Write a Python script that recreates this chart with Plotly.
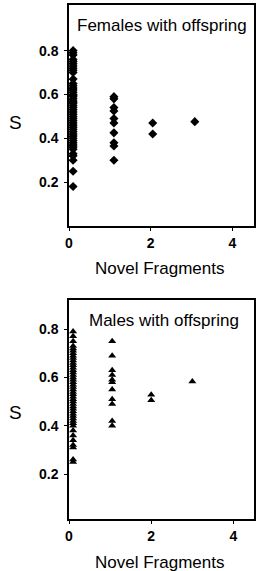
import plotly.graph_objects as go

# Females with offspring (diamonds)
fem_x0 = 0.1
fem_y0 = [0.80, 0.79, 0.78, 0.76, 0.75, 0.74, 0.73, 0.72, 0.71, 0.70, 0.67, 0.65,
          0.64, 0.63, 0.62, 0.61, 0.60, 0.595, 0.59, 0.58, 0.57, 0.565, 0.56, 0.55,
          0.54, 0.53, 0.52, 0.51, 0.50, 0.49, 0.48, 0.47, 0.46, 0.45, 0.44, 0.43,
          0.42, 0.41, 0.40, 0.39, 0.38, 0.37, 0.36, 0.35, 0.33, 0.32, 0.30, 0.25, 0.18]
fem_x1 = 1.1
fem_y1 = [0.59, 0.58, 0.54, 0.525, 0.49, 0.47, 0.425, 0.38, 0.365, 0.30]
fem_x2 = 2.05
fem_y2 = [0.47, 0.42]
fem_x3 = 3.08
fem_y3 = [0.476]

# Males with offspring (triangles)
male_x0 = 0.1
male_y0 = [0.79, 0.77, 0.75, 0.73, 0.72, 0.71, 0.70, 0.69, 0.68, 0.67, 0.66, 0.65,
           0.64, 0.63, 0.62, 0.61, 0.60, 0.59, 0.58, 0.57, 0.56, 0.55, 0.54, 0.53,
           0.52, 0.51, 0.50, 0.49, 0.48, 0.47, 0.46, 0.45, 0.44, 0.43, 0.42, 0.41,
           0.40, 0.38, 0.36, 0.34, 0.32, 0.31, 0.26, 0.25]
male_x1 = 1.05
male_y1 = [0.75, 0.69, 0.63, 0.61, 0.59, 0.58, 0.55, 0.51, 0.49, 0.42, 0.40]
male_x2 = 2.0
male_y2 = [0.528, 0.505]
male_x3 = 3.0
male_y3 = [0.583]

y_ticks = [0.2, 0.4, 0.6, 0.8]
y_tick_text = ["0.2", "0.4", "0.6", "0.8"]
x_ticks = [0, 2, 4]
x_tick_text = ["0", "2", "4"]

FONT = "Liberation Sans, Arial, sans-serif"

def xs(x, ys):
    return [x] * len(ys)

fig = go.Figure()
fx = xs(fem_x0, fem_y0) + xs(fem_x1, fem_y1) + xs(fem_x2, fem_y2) + xs(fem_x3, fem_y3)
fy = fem_y0 + fem_y1 + fem_y2 + fem_y3
mx = xs(male_x0, male_y0) + xs(male_x1, male_y1) + xs(male_x2, male_y2) + xs(male_x3, male_y3)
my = male_y0 + male_y1 + male_y2 + male_y3

fig.add_trace(go.Scatter(x=fx, y=fy, mode="markers", xaxis="x", yaxis="y",
                         marker=dict(symbol="diamond", size=7, color="black"),
                         showlegend=False))
fig.add_trace(go.Scatter(x=mx, y=my, mode="markers", xaxis="x2", yaxis="y2",
                         marker=dict(symbol="triangle-up", size=7, color="black"),
                         showlegend=False))

axis_common = dict(showgrid=False, zeroline=False, showline=True, linecolor="black",
                   linewidth=1.5, mirror=True, ticks="outside", ticklen=3,
                   tickcolor="black", tickfont=dict(family=FONT, size=14, color="black", weight="bold"))

fig.update_layout(
    width=257, height=571,
    margin=dict(l=69, r=1, t=5, b=52),
    paper_bgcolor="white", plot_bgcolor="white",
    xaxis=dict(domain=[0, 1], range=[0, 4.53], anchor="y", tickvals=x_ticks,
               ticktext=x_tick_text, **axis_common),
    yaxis=dict(domain=[0.570, 1.0], range=[0, 1.008], anchor="x", tickvals=y_ticks,
               ticktext=y_tick_text, ticklabelstandoff=3, **axis_common),
    xaxis2=dict(domain=[0, 1], range=[0, 4.5], anchor="y2", tickvals=x_ticks,
                ticktext=x_tick_text, **axis_common),
    yaxis2=dict(domain=[0, 0.426], range=[0.014, 0.92], anchor="x2", tickvals=y_ticks,
                ticktext=y_tick_text, ticklabelstandoff=3, **axis_common),
)

txt = dict(family=FONT, color="black")
annos = [
    dict(text="Females with offspring", x=0.504, y=26, font=dict(size=17, **txt)),
    dict(text="Males with offspring", x=0.513, y=320, font=dict(size=17, **txt)),
    dict(text="S", x=-0.289, y=123, font=dict(size=19, **txt)),
    dict(text="S", x=-0.289, y=412, font=dict(size=19, **txt)),
    dict(text="Novel Fragments", x=0.487, y=268, font=dict(size=17, **txt)),
    dict(text="Novel Fragments", x=0.487, y=562, font=dict(size=17, **txt)),
]
for a in annos:
    ypix = a.pop("y")
    fig.add_annotation(xref="paper", yref="paper", y=(519 - ypix) / 514,
                       xanchor="center", yanchor="middle", showarrow=False, **a)

fig.write_html("out.html", config={"displayModeBar": False},
               post_script="document.body.style.margin='0';document.body.style.overflow='hidden';")
